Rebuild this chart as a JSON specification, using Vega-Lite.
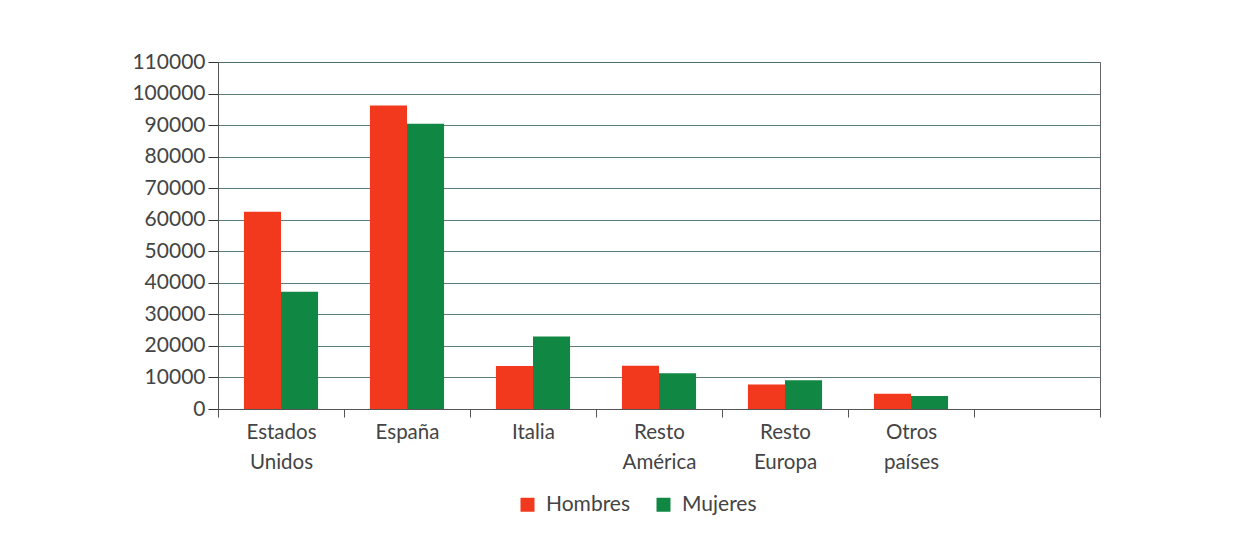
{
  "$schema": "https://vega.github.io/schema/vega-lite/v6.json",
  "autosize": "none",
  "width": 882,
  "height": 347,
  "padding": {"left": 218, "top": 62, "right": 152, "bottom": 146},
  "background": "white",
  "data": {
    "values": [
      {"pais": "Estados Unidos", "sexo": "Hombres", "valor": 62500},
      {"pais": "Estados Unidos", "sexo": "Mujeres", "valor": 37200},
      {"pais": "España", "sexo": "Hombres", "valor": 96200},
      {"pais": "España", "sexo": "Mujeres", "valor": 90400},
      {"pais": "Italia", "sexo": "Hombres", "valor": 13600},
      {"pais": "Italia", "sexo": "Mujeres", "valor": 23000},
      {"pais": "Resto América", "sexo": "Hombres", "valor": 13700},
      {"pais": "Resto América", "sexo": "Mujeres", "valor": 11300},
      {"pais": "Resto Europa", "sexo": "Hombres", "valor": 7800},
      {"pais": "Resto Europa", "sexo": "Mujeres", "valor": 9100},
      {"pais": "Otros países", "sexo": "Hombres", "valor": 4800},
      {"pais": "Otros países", "sexo": "Mujeres", "valor": 4100}
    ]
  },
  "mark": {"type": "bar"},
  "encoding": {
    "x": {
      "field": "pais",
      "type": "nominal",
      "title": null,
      "scale": {
        "domain": ["Estados Unidos", "España", "Italia", "Resto América", "Resto Europa", "Otros países", " "],
        "paddingInner": 0,
        "paddingOuter": 0
      },
      "axis": {
        "labelAngle": 0,
        "labelExpr": "split(datum.label, ' ')",
        "tickBand": "extent",
        "tickSize": 8,
        "tickColor": "#555",
        "domainColor": "#555",
        "labelFont": "Lato",
        "labelFontSize": 20.5,
        "labelColor": "#444",
        "labelPadding": 5,
        "labelLineHeight": 30,
        "labelBaseline": "top"
      }
    },
    "xOffset": {
      "field": "sexo",
      "type": "nominal",
      "scale": {"paddingInner": 0, "paddingOuter": 0.7}
    },
    "y": {
      "field": "valor",
      "type": "quantitative",
      "title": null,
      "scale": {"domain": [0, 110000], "nice": false},
      "axis": {
        "values": [0, 10000, 20000, 30000, 40000, 50000, 60000, 70000, 80000, 90000, 100000, 110000],
        "format": "d",
        "tickSize": 10,
        "tickColor": "#333",
        "domainColor": "#555",
        "gridColor": "#4d6e6a",
        "gridOpacity": 0.9,
        "labelFont": "Lato",
        "labelFontSize": 21,
        "labelColor": "#444",
        "labelPadding": 3
      }
    },
    "color": {
      "field": "sexo",
      "type": "nominal",
      "scale": {"domain": ["Hombres", "Mujeres"], "range": ["#f2391d", "#108844"]},
      "legend": {
        "title": null,
        "orient": "none",
        "direction": "horizontal",
        "legendX": 299,
        "legendY": 432,
        "symbolType": "square",
        "symbolSize": 196,
        "symbolStrokeWidth": 0,
        "symbolOpacity": 1,
        "labelFont": "Lato",
        "labelFontSize": 21,
        "labelColor": "#444",
        "columnPadding": 22,
        "labelOffset": 8
      }
    }
  },
  "config": {
    "view": {"stroke": "#666", "strokeWidth": 1},
    "axis": {"gridWidth": 1}
  }
}
